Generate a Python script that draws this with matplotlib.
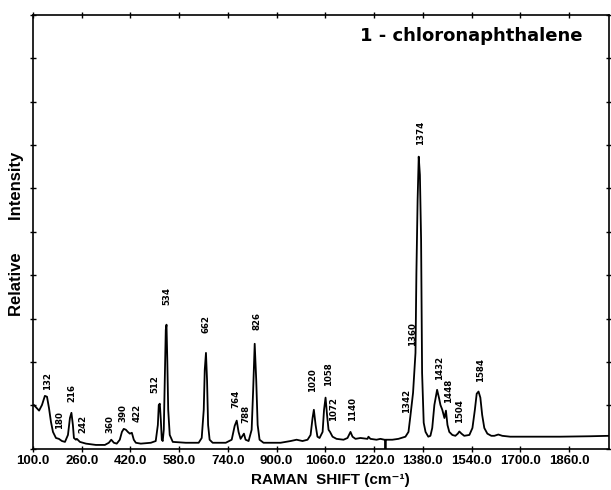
import numpy as np
import matplotlib
matplotlib.use('Agg')
import matplotlib.pyplot as plt

plt.rcParams['font.family'] = ['Liberation Sans', 'DejaVu Sans']

# Raman spectrum of 1-chloronaphthalene
shift = [103, 120, 129.5, 139, 146, 152.5, 159, 165.6, 175.4, 185, 195, 205,
         214.8, 221.3, 226.2, 231, 234.4, 241, 244, 254, 274, 306.6, 336, 349,
         357, 365.6, 375, 385, 392, 398, 405, 411.5, 418, 424.6, 431, 437.7,
         454, 487, 503, 510, 513, 516.4, 519.7, 523, 526, 529.5, 532.8, 536,
         538.4, 541, 544, 549, 559, 601.6, 644, 654, 660.7, 664, 668, 671.5,
         675, 680, 690, 733, 752.5, 762.3, 769, 775, 781.6, 788, 792.7, 798,
         808, 818, 823, 828, 833, 837.7, 844, 857, 913, 946, 965.6, 985,
         1001.6, 1011.5, 1018, 1022.3, 1028, 1034, 1041, 1051, 1055.7, 1060.7,
         1065.6, 1070.5, 1075.4, 1083.6, 1096.7, 1119.7, 1132.8, 1142.6,
         1149.2, 1159, 1175.4, 1198.4, 1201.6, 1208, 1228, 1241, 1254, 1256.5,
         1257.4, 1258.3, 1260.6, 1280, 1300, 1323, 1333, 1339, 1348, 1356,
         1359, 1363, 1366.6, 1370.5, 1374.4, 1377.7, 1383, 1389, 1398, 1405,
         1411, 1418, 1427, 1433, 1438, 1444, 1451, 1456, 1461, 1467, 1477,
         1487, 1495, 1500, 1507, 1516, 1533, 1543, 1551, 1557, 1563, 1569,
         1575, 1582, 1592, 1605, 1615, 1628, 1641, 1667, 1733, 1831, 1930, 1992]
intensity = [1.01, 0.88, 1.01, 1.22, 1.20, 0.94, 0.62, 0.39, 0.25, 0.23, 0.18, 0.16,
             0.32, 0.71, 0.83, 0.55, 0.25, 0.21, 0.23, 0.16, 0.12, 0.09, 0.09, 0.14,
             0.21, 0.14, 0.12, 0.21, 0.39, 0.46, 0.44, 0.39, 0.35, 0.37, 0.21, 0.14,
             0.12, 0.14, 0.18, 0.55, 1.01, 1.04, 0.67, 0.21, 0.18, 0.44, 1.59, 2.74,
             2.86, 2.05, 0.90, 0.32, 0.16, 0.14, 0.14, 0.25, 0.90, 1.82, 2.21, 1.59,
             0.55, 0.21, 0.14, 0.14, 0.21, 0.53, 0.65, 0.39, 0.23, 0.30, 0.35, 0.21,
             0.18, 0.44, 1.36, 2.42, 1.59, 0.55, 0.21, 0.14, 0.14, 0.18, 0.21, 0.18,
             0.21, 0.32, 0.71, 0.90, 0.55, 0.28, 0.25, 0.39, 0.90, 1.18,
             0.78, 0.44, 0.39, 0.28, 0.23, 0.21, 0.25, 0.39,
             0.28, 0.23, 0.25, 0.23, 0.28, 0.23, 0.21, 0.23, 0.21, 0.21,
             -0.05, 0.21, 0.21, 0.21, 0.23, 0.28, 0.39, 0.74, 1.29, 2.21,
             4.05, 5.74, 6.73, 6.31, 4.82, 1.75, 0.60, 0.39, 0.28, 0.30,
             0.48, 1.01, 1.36, 1.18, 1.01, 0.90, 0.71, 0.88, 0.55, 0.39, 0.32,
             0.30, 0.35, 0.40, 0.35, 0.30, 0.32, 0.48, 0.90, 1.27, 1.32, 1.18,
             0.78, 0.48, 0.35, 0.30, 0.30, 0.33, 0.30, 0.28, 0.28, 0.28, 0.29, 0.30]

# peak labels: text, x position, bottom of text
peak_labels = ['132', '180', '216', '242', '360', '390', '422', '512', '534', '662',
               '764', '788', '826', '1020', '1058', '1072', '1140', '1342', '1360',
               '1374', '1432', '1448', '1504', '1584']
label_x = [148, 186, 227, 263, 352, 394, 441, 501, 538, 668, 766, 798, 834,
           1017, 1071, 1088, 1148, 1326, 1345, 1372, 1435, 1465, 1501, 1569]
label_y = [1.36, 0.46, 1.09, 0.37, 0.37, 0.62, 0.62, 1.29, 3.32, 2.67, 0.94, 0.60,
           2.74, 1.32, 1.44, 0.63, 0.63, 0.83, 2.36, 7.0, 1.59, 1.06, 0.59, 1.55]

xticks = [100, 260, 420, 580, 740, 900, 1060, 1220, 1380, 1540, 1700, 1860]

fig = plt.figure(figsize=(6.11, 4.90), dpi=100)
ax = fig.add_axes([0.054, 0.084, 0.943, 0.886])

ax.plot(shift, intensity, color='black', lw=1.3)

for t, lx, ly in zip(peak_labels, label_x, label_y):
    ax.text(lx, ly, t, rotation=90, ha='center', va='bottom',
            fontsize=6.2, fontweight='bold', family='DejaVu Sans')

ax.text(0.953, 0.951, '1 - chloronaphthalene', transform=ax.transAxes,
        ha='right', va='center', fontsize=13, fontweight='bold',
        family='DejaVu Sans')

ax.set_xlim(100, 1992)
ax.set_ylim(0, 10)
ax.set_xticks(xticks)
ax.set_xticklabels(['%.1f' % v for v in xticks], fontsize=9.5, fontweight='bold')
ax.set_yticks(range(11))
ax.set_yticklabels([])
ax.tick_params(direction='inout', length=5, width=1, top=True, right=True,
               pad=2)
for s in ax.spines.values():
    s.set_linewidth(1.2)

ax.set_xlabel('RAMAN  SHIFT (cm\u207b\u00b9)', fontsize=11, fontweight='bold')
ax.xaxis.set_label_coords(0.516, -0.072)
ax.xaxis.label.set_va('center')
ax.set_ylabel('Relative       Intensity', fontsize=12, fontweight='bold')
ax.yaxis.set_label_coords(-0.028, 0.495)
ax.yaxis.label.set_va('center')

fig.savefig('out.png', dpi=100)
